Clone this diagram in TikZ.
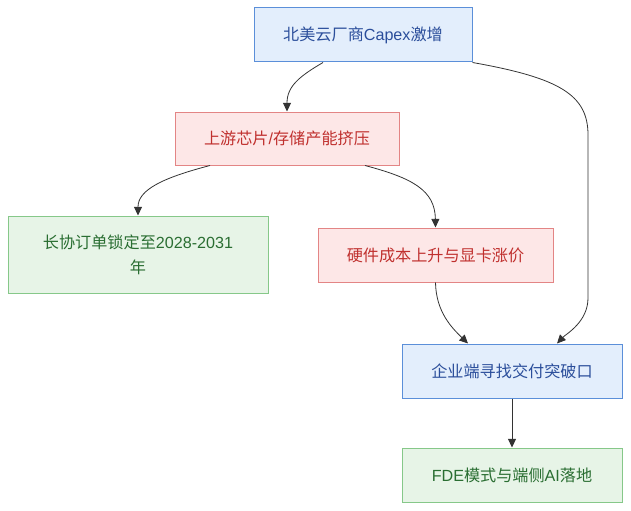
\documentclass[tikz,border=0pt]{standalone}
\usepackage{fontspec}
\setmainfont{Liberation Sans}
\newfontfamily\cjk{Noto Sans CJK SC}
\usetikzlibrary{arrows.meta}
\definecolor{bfill}{HTML}{E3EEFC}
\definecolor{bdraw}{HTML}{5B8FD9}
\definecolor{btext}{HTML}{2B4E9B}
\definecolor{rfill}{HTML}{FDE7E7}
\definecolor{rdraw}{HTML}{E38585}
\definecolor{rtext}{HTML}{C0302E}
\definecolor{gfill}{HTML}{E7F4E7}
\definecolor{gdraw}{HTML}{86C889}
\definecolor{gtext}{HTML}{2A6E32}
\definecolor{edge}{HTML}{333333}
\tikzset{
  box/.style={draw, line width=0.75pt, inner sep=0pt, align=center, font=\fontsize{12.1}{18.8}\selectfont},
  bluebox/.style={box, fill=bfill, draw=bdraw, text=btext},
  redbox/.style={box, fill=rfill, draw=rdraw, text=rtext},
  greenbox/.style={box, fill=gfill, draw=gdraw, text=gtext},
  conn/.style={draw=edge, line width=0.6pt, -{Triangle[length=6.5pt,width=6pt]}}
}
\begin{document}
\begin{tikzpicture}[x=0.75pt,y=-0.75pt]
\useasboundingbox (0,0) rectangle (631,510);
\node[bluebox, minimum width=218*0.75pt, minimum height=54*0.75pt] (A) at (363,35) {{\cjk 北美云厂商}Capex{\cjk 激增}};
\node[redbox, minimum width=224*0.75pt, minimum height=53*0.75pt] (B) at (287,138.5) {{\cjk 上游芯片}/{\cjk 存储产能挤压}};
\node[greenbox, minimum width=260*0.75pt, minimum height=77*0.75pt] (C) at (138,254.5) {{\cjk 长协订单锁定至}2028-2031\\{\cjk 年}};
\node[redbox, minimum width=235*0.75pt, minimum height=54*0.75pt] (D) at (435.5,255) {{\cjk 硬件成本上升与显卡涨价}};
\node[bluebox, minimum width=220*0.75pt, minimum height=54*0.75pt] (E) at (512,371) {{\cjk 企业端寻找交付突破口}};
\node[greenbox, minimum width=220*0.75pt, minimum height=54*0.75pt] (F) at (512,475) {FDE{\cjk 模式与端侧}AI{\cjk 落地}};

\draw[conn] ([xshift=-40*0.75pt]A.south) .. controls (300,76) and (287,86) .. (B.north);
\draw[conn] (A.south east) .. controls (560,78) and (588,95) .. (588,135) -- (588,298) .. controls (588,322) and (566,334) .. ([xshift=45*0.75pt]E.north);
\draw[conn] ([xshift=-77*0.75pt]B.south) .. controls (162,178) and (138,190) .. (C.north);
\draw[conn] ([xshift=78*0.75pt]B.south) .. controls (412,178) and (435,190) .. (D.north);
\draw[conn] (D.south) .. controls (436,312) and (452,328) .. ([xshift=-44*0.75pt]E.north);
\draw[conn] (E.south) -- (F.north);
\end{tikzpicture}
\end{document}
